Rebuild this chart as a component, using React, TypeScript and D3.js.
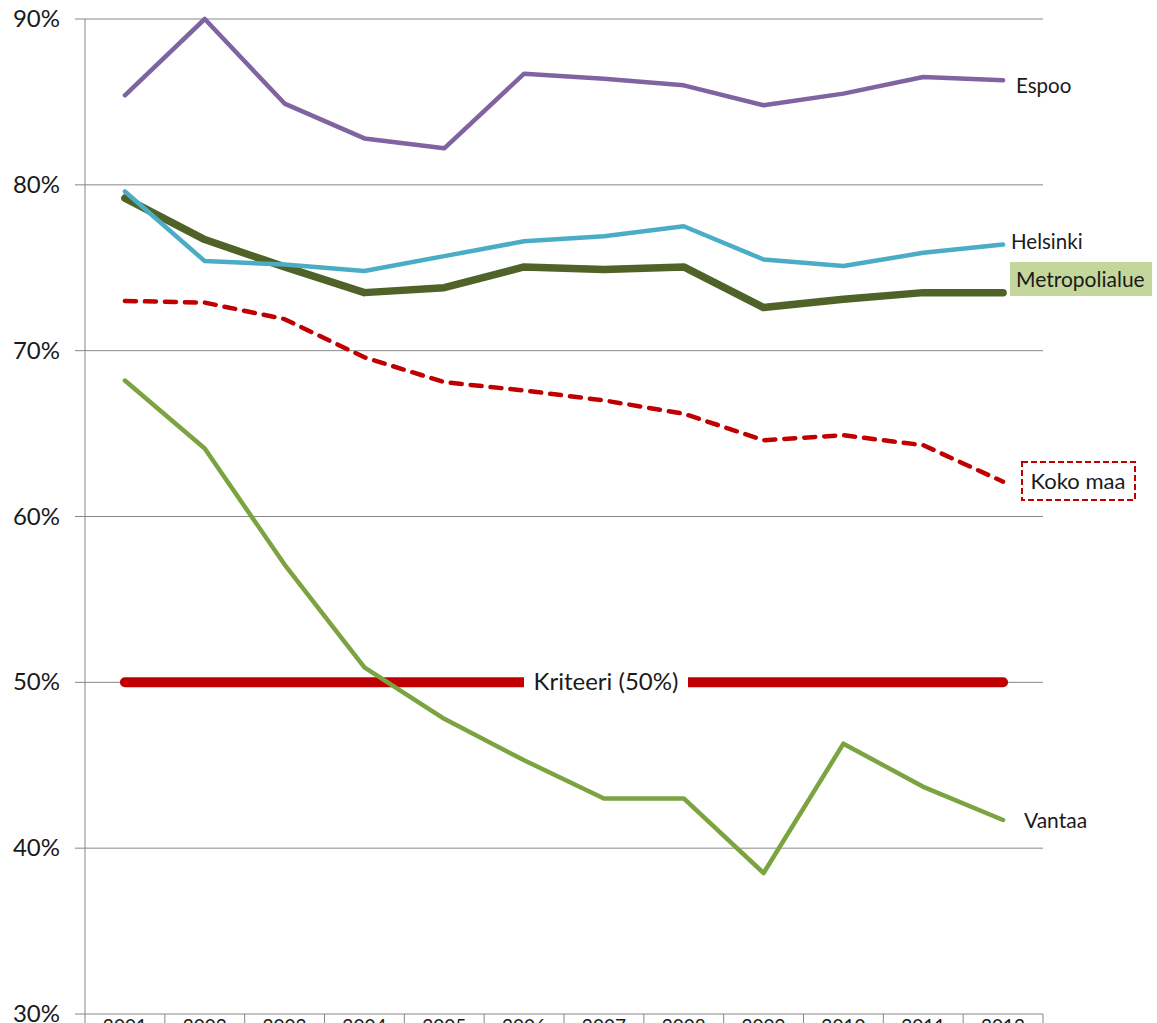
import React from "react";
import * as d3 from "d3";

const years = ["2001","2002","2003","2004","2005","2006","2007","2008","2009","2010","2011","2012"];
const espoo = [85.4, 90.0, 84.9, 82.8, 82.2, 86.7, 86.4, 86.0, 84.8, 85.5, 86.5, 86.3];
const helsinki = [79.6, 75.4, 75.2, 74.8, 75.7, 76.6, 76.9, 77.5, 75.5, 75.1, 75.9, 76.4];
const metropolialue = [79.2, 76.7, 75.05, 73.5, 73.8, 75.05, 74.9, 75.05, 72.6, 73.1, 73.5, 73.5];
const kokoMaa = [73.0, 72.9, 71.9, 69.6, 68.1, 67.6, 67.0, 66.2, 64.6, 64.9, 64.3, 62.1];
const vantaa = [68.2, 64.1, 57.1, 50.9, 47.8, 45.3, 43.0, 43.0, 38.5, 46.3, 43.7, 41.7];
const kriteeri = 50;
const yTicks = [30, 40, 50, 60, 70, 80, 90];

const W = 1157, H = 1023;
const FONT = "Lato, 'Open Sans', sans-serif";
const TXT = "#1a1a1a";

export default function App() {
  const x = d3.scaleBand<string>().domain(years).range([85, 1043]);
  const y = d3.scaleLinear().domain([30, 90]).range([1014, 19]);
  const cx = (i: number) => (x(years[i]) as number) + x.bandwidth() / 2;
  const line = d3.line<number>().x((_, i) => cx(i)).y((d) => y(d));
  const gridColor = "#868686";
  const lastX = cx(years.length - 1);
  const firstX = cx(0);
  const kY = y(kriteeri);

  return (
    <svg width={W} height={H} style={{ position: "absolute", left: 0, top: 0, background: "#fff" }}>
      <rect x={0} y={0} width={W} height={H} fill="#fff" />
      {yTicks.map((t) => (
        <g key={t}>
          <line x1={75} x2={1043} y1={y(t)} y2={y(t)} stroke={gridColor} strokeWidth={1} />
          <text x={60} y={y(t) + 8} textAnchor="end" fontFamily={FONT} fontSize={24} fill={TXT}>{t}%</text>
        </g>
      ))}
      <line x1={85} x2={85} y1={19} y2={H} stroke={gridColor} strokeWidth={1} />
      {years.map((yr, i) => (
        <g key={yr}>
          <line x1={(x(yr) as number) + x.bandwidth()} x2={(x(yr) as number) + x.bandwidth()} y1={1014} y2={H} stroke={gridColor} strokeWidth={1} />
          <text x={cx(i)} y={1033} textAnchor="middle" fontFamily={FONT} fontSize={19} fill={TXT}>{yr}</text>
        </g>
      ))}
      {/* Kriteeri */}
      <line x1={firstX} x2={lastX} y1={kY} y2={kY} stroke="#C00000" strokeWidth={10} strokeLinecap="round" />
      <rect x={524} y={kY - 15} width={164} height={30} fill="#fff" />
      <text x={606} y={kY + 8} textAnchor="middle" fontFamily={FONT} fontSize={24} fill={TXT}>Kriteeri (50%)</text>
      {/* series */}
      <path d={line(vantaa) || ""} fill="none" stroke="#7BA33F" strokeWidth={4.5} strokeLinejoin="round" strokeLinecap="round" />
      <path d={line(kokoMaa) || ""} fill="none" stroke="#C00000" strokeWidth={4.5} strokeDasharray="11,9" strokeLinejoin="round" strokeLinecap="round" />
      <path d={line(metropolialue) || ""} fill="none" stroke="#4F6228" strokeWidth={7.5} strokeLinejoin="round" strokeLinecap="round" />
      <path d={line(helsinki) || ""} fill="none" stroke="#4BACC6" strokeWidth={4.5} strokeLinejoin="round" strokeLinecap="round" />
      <path d={line(espoo) || ""} fill="none" stroke="#8064A2" strokeWidth={4.5} strokeLinejoin="round" strokeLinecap="round" />
      {/* labels */}
      <text x={1016} y={93} fontFamily={FONT} fontSize={20.5} fill={TXT}>Espoo</text>
      <text x={1011} y={249} fontFamily={FONT} fontSize={20.5} fill={TXT}>Helsinki</text>
      <rect x={1010} y={262} width={142} height={34} fill="#C3D69B" />
      <text x={1016} y={287} fontFamily={FONT} fontSize={21} fill={TXT}>Metropolialue</text>
      <rect x={1022} y={462} width={113} height={38} fill="#fff" stroke="#C00000" strokeWidth={2} strokeDasharray="6,3" />
      <text x={1078} y={489} textAnchor="middle" fontFamily={FONT} fontSize={22} fill={TXT}>Koko maa</text>
      <text x={1024} y={828} fontFamily={FONT} fontSize={21} fill={TXT}>Vantaa</text>
    </svg>
  );
}
